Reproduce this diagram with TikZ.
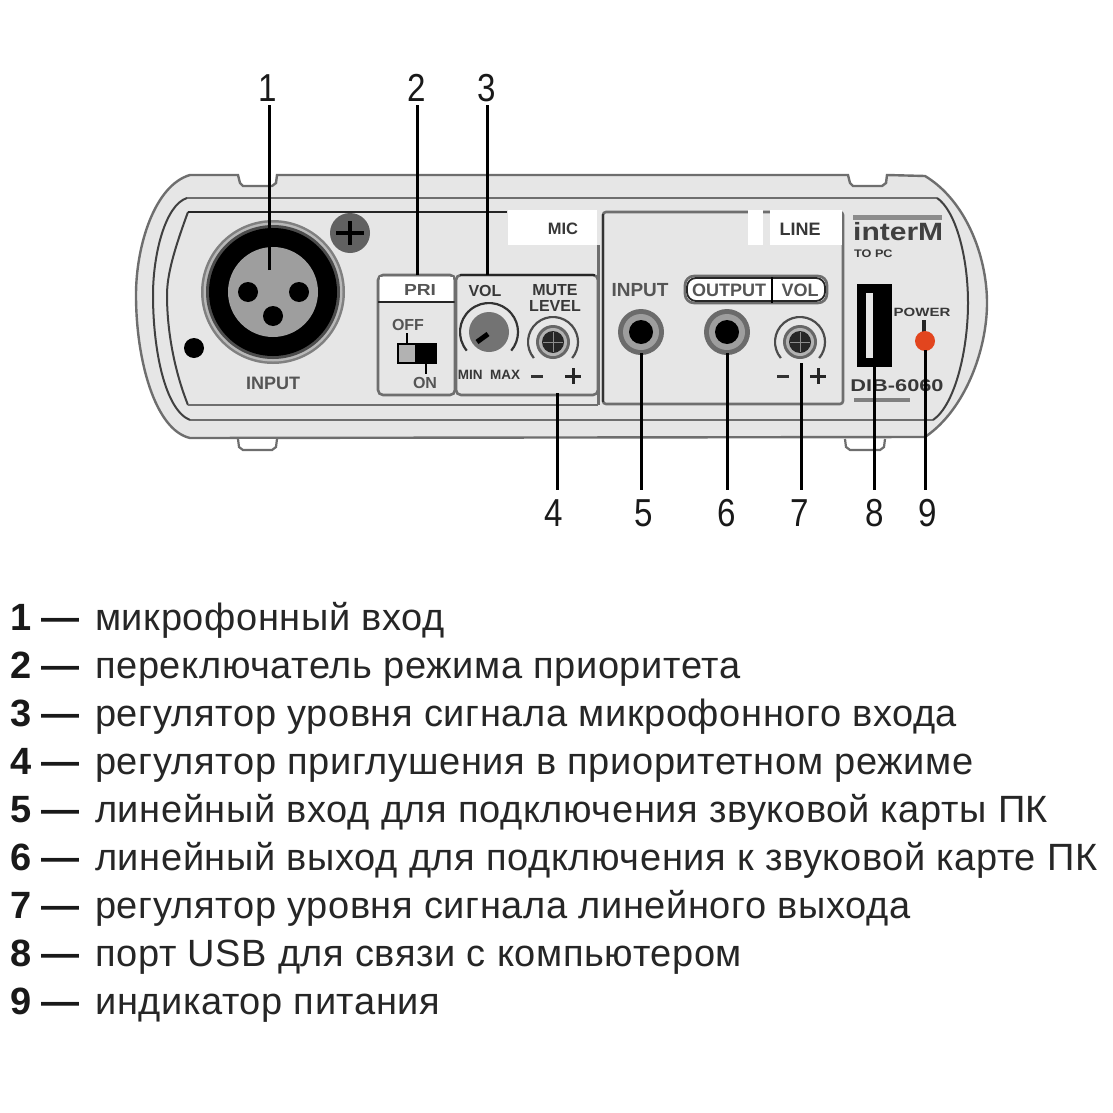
\documentclass[tikz,border=0pt]{standalone}
\usepackage{fontspec}
\usepackage{graphicx}
\setmainfont{Liberation Sans}
\newfontfamily\legfont[LetterSpace=1.6]{Liberation Sans}
\definecolor{bodyfill}{HTML}{E6E6E6}
\definecolor{edge}{HTML}{6E6E6E}
\definecolor{ink}{HTML}{555555}
\definecolor{ledred}{HTML}{E2451E}
\newcommand{\legendrow}[4]{%
  \node[legnum] (#1) at (10,#2) {#3\hspace{10pt}—};
  \node[legtext] (#1t) at (95,#2) {#4};}
\newcommand{\wide}[2]{\scalebox{#1}[1]{#2}}
\tikzset{
  x=1pt,y=-1pt,
  shell/.style={draw=edge,line width=2.4pt,fill=bodyfill},
  curve/.style={draw=black!75,line width=2pt},
  hline/.style={draw=edge,line width=2.6pt},
  darkline/.style={draw=black!85,line width=2.4pt},
  leader/.style={draw=black,line width=3pt},
  callout/.style={font=\fontsize{39}{39}\selectfont,inner sep=0pt,text=black!90},
  legnum/.style={anchor=base west,inner sep=0pt,font=\bfseries\fontsize{38}{40}\selectfont,text=black!90},
  legtext/.style={anchor=base west,inner sep=0pt,font=\legfont\fontsize{38}{40}\selectfont,text=black!85},
  lab/.style={inner sep=0pt,text=ink,font=\bfseries\fontsize{16}{16}\selectfont},
  labdark/.style={inner sep=0pt,text=black!78,font=\bfseries\fontsize{16}{16}\selectfont},
  pics/jack/.style={code={
    \fill[black!58] (0,0) circle[radius=23];
    \fill[black!38] (0,0) circle[radius=18];
    \fill[black] (0,0) circle[radius=12];}},
  pics/trim/.style={code={
    \draw[black!70,line width=2.2pt] (140:25) arc[start angle=140,end angle=400,radius=25];
    \fill[black!60] (0,0) circle[radius=17];
    \fill[black!30] (0,0) circle[radius=14];
    \fill[black!85] (0,0) circle[radius=11];
    \draw[black!45,line width=1pt] (-10,0) -- (10,0) (0,-10) -- (0,10);}},
}
\begin{document}
\begin{tikzpicture}
\useasboundingbox (0,0) rectangle (1113,1113);

% outer body with notches
\path[shell] (238,175) -- (240,183) -- (243,186) -- (272,186) -- (276,183) -- (277,175)
  -- (848,175) -- (850,183) -- (853,186) -- (882,186) -- (886,183) -- (887,175)
  -- (925,176) .. controls (965,200) and (987,255) .. (987,303)
  .. controls (987,350) and (965,410) .. (925,437)
  -- (190,438) .. controls (155,430) and (136,360) .. (136,295)
  .. controls (136,245) and (155,185) .. (190,175) -- cycle;
% feet
\draw[edge,line width=2.2pt,fill=white] (238,439) -- (239,447) -- (243,450) -- (272,450) -- (276,447) -- (277,439);
\draw[edge,line width=2.2pt,fill=white] (845,439) -- (846,447) -- (850,450) -- (880,450) -- (884,447) -- (885,439);
% inner contour lines
\draw[hline] (187,198) -- (937,198);
\draw[hline] (190,420) -- (933,420);
\draw[curve] (187,198) .. controls (165,205) and (153,255) .. (153,295) .. controls (153,350) and (165,410) .. (190,420);
\draw[curve] (937,198) .. controls (955,210) and (968,255) .. (968,303) .. controls (968,350) and (955,405) .. (933,420);
% MIC panel
\draw[curve] (188,212) .. controls (174,250) and (167,275) .. (167,295) .. controls (167,330) and (174,370) .. (188,405);
\draw[hline] (188,405) -- (598,405);
\draw[edge,line width=3pt] (598,245) -- (598,405);
\draw[darkline] (188,212) -- (507,212);
\node[fill=white,minimum width=89pt,minimum height=35pt,inner sep=0pt] (micbox) at (552.5,227.5) {};
\node[labdark,font=\bfseries\fontsize{16.5}{17}\selectfont] (miclab) at (563,229) {MIC};
% LINE panel
\draw[draw=edge,line width=2.6pt,rounded corners=3pt] (603,212) rectangle (843,404);
\draw[black!80,line width=2.4pt] (603,214) -- (603,402);
\node[fill=white,minimum width=15pt,minimum height=35pt,inner sep=0pt] (linegap) at (755.5,227.5) {};
\node[fill=white,minimum width=72pt,minimum height=35pt,inner sep=0pt] (linebox) at (806,227.5) {};
\node[labdark,font=\bfseries\fontsize{18}{18}\selectfont] (linelab) at (800,229) {LINE};

% XLR
\fill[black!50] (273,292) circle[radius=72];
\fill[black!28] (273,292) circle[radius=69.5];
\fill[black!70] (273,292) circle[radius=67];
\fill[black] (273,292) circle[radius=64];
\fill[black!38] (273,292) circle[radius=45];
\foreach \p/\q in {248/292,299/292,273/316} \fill[black] (\p,\q) circle[radius=10];
\node[lab,font=\bfseries\fontsize{18}{18}\selectfont] (inputa) at (273,383) {INPUT};
% screw
\fill[black!62] (350,233) circle[radius=20];
\draw[black,line width=4pt] (336,233) -- (364,233) (350,221) -- (350,245);
% hole
\fill[black] (194,348) circle[radius=10];

% PRI box
\draw[edge,line width=2.6pt,rounded corners=5pt] (378,275) rectangle (455,395);
\fill[white] (380,277) rectangle (453,301);
\draw[darkline] (378,302) -- (455,302);
\node[lab] (pri) at (420,290) {\wide{1.2}{PRI}};
\node[lab] (off) at (408,325) {OFF};
\node[lab] (on) at (425,383) {ON};
\fill[black] (397,343) rectangle (437,364);
\fill[black!30] (399,345) rectangle (415,362);
\draw[black,line width=2.2pt] (407,333) -- (407,343) (426,364) -- (426,374);

% control box
\draw[edge,line width=2.6pt,rounded corners=5pt] (456,275) rectangle (598,395);
\draw[darkline] (460,275) -- (595,275);
\node[labdark] (vol) at (485,291) {VOL};
\node[labdark,align=center,font=\bfseries\fontsize{16}{15.5}\selectfont] (mute) at (555,298) {MUTE\\LEVEL};
\draw[black!80,line width=2.2pt] (489,332) ++(140:29) arc[start angle=140,end angle=400,radius=29];
\fill[black!55] (489,332) circle[radius=20];
\draw[black,line width=5pt] (477,342) -- (488,334);
\pic (trimfour) at (553,342) {trim};
\node[labdark,font=\bfseries\fontsize{13.5}{14}\selectfont] (minmax) at (489,375) {MIN\ \ MAX};
\draw[black!80,line width=3pt] (531,376) -- (543,376);
\draw[black!85,line width=3pt] (565,376) -- (581,376) (573,368) -- (573,384);

% line section
\node[lab,font=\bfseries\fontsize{19}{19}\selectfont] (inputb) at (640,290) {INPUT};
\pic (jackfive) at (641,332) {jack};
\pic (jacksix) at (727,332) {jack};
\pic (trimseven) at (800,342) {trim};
\draw[edge,line width=2.6pt,rounded corners=9pt,fill=white] (685,276) rectangle (827,303);
\draw[black!85,line width=1.8pt,rounded corners=9pt] (687,278) rectangle (825,301);
\draw[black,line width=2.2pt] (772,277) -- (772,303);
\node[lab,font=\bfseries\fontsize{18}{18}\selectfont] (outp) at (729,290) {OUTPUT};
\node[lab,font=\bfseries\fontsize{18}{18}\selectfont] (volb) at (800,290) {VOL};
\draw[black!80,line width=3pt] (777,376) -- (789,376);
\draw[black!85,line width=3pt] (810,376) -- (826,376) (818,368) -- (818,384);

% brand block
\fill[black!45] (853,215) rectangle (942,220);
\node[inner sep=0pt,anchor=west,text=black!75,font=\bfseries\fontsize{25}{25}\selectfont] (brand) at (853,232) {\wide{1.2}{interM}};
\node[labdark,anchor=west,font=\bfseries\fontsize{11}{11}\selectfont] (topc) at (854,254) {\wide{1.15}{TO PC}};
\fill[black] (857,284) rectangle (892,367);
\fill[bodyfill] (866,293) rectangle (873,358);
\node[labdark,font=\bfseries\fontsize{12}{12}\selectfont] (power) at (922,312) {\wide{1.25}{POWER}};
\draw[black!85,line width=4pt] (924,320) -- (924,332);
\node[circle,fill=ledred,minimum size=20pt,inner sep=0pt] (led) at (925,341) {};
\node[labdark,font=\bfseries\fontsize{17}{17}\selectfont] (model) at (897,386) {\wide{1.28}{DIB-6060}};
\fill[black!50] (854,398) rectangle (910,402);

% leader ends
\coordinate (e1) at (269,270);
\coordinate (e2) at (417,275);
\coordinate (e3) at (487,275);
\coordinate (e4) at (557,393);
\coordinate (e5) at (641,353);
\coordinate (e6) at (727,353);
\coordinate (e7) at (801,363);
\coordinate (e8) at (874,367);
\coordinate (e9) at (925,350);

% callouts
\node[callout] (n1) at (268,88) {\wide{.85}{1}};
\node[callout] (n2) at (417,88) {\wide{.85}{2}};
\node[callout] (n3) at (487,88) {\wide{.85}{3}};
\node[callout] (n4) at (554,513) {\wide{.85}{4}};
\node[callout] (n5) at (644,513) {\wide{.85}{5}};
\node[callout] (n6) at (727,513) {\wide{.85}{6}};
\node[callout] (n7) at (800,513) {\wide{.85}{7}};
\node[callout] (n8) at (875,513) {\wide{.85}{8}};
\node[callout] (n9) at (928,513) {\wide{.85}{9}};
\foreach \k in {1,2,3} \draw[leader] (e\k) -- (e\k |- 0,105);
\foreach \k in {4,...,9} \draw[leader] (e\k) -- (e\k |- 0,490);

% legend
\legendrow{a}{630.5}{1}{микрофонный вход}
\legendrow{b}{678.5}{2}{переключатель режима приоритета}
\legendrow{c}{726.5}{3}{регулятор уровня сигнала микрофонного входа}
\legendrow{d}{774.5}{4}{регулятор приглушения в приоритетном режиме}
\legendrow{e}{822.5}{5}{линейный вход для подключения звуковой карты ПК}
\legendrow{f}{870.5}{6}{линейный выход для подключения к звуковой карте ПК}
\legendrow{g}{918.5}{7}{регулятор уровня сигнала линейного выхода}
\legendrow{h}{966.5}{8}{порт USB для связи с компьютером}
\legendrow{i}{1014.5}{9}{индикатор питания}
\end{tikzpicture}
\end{document}
